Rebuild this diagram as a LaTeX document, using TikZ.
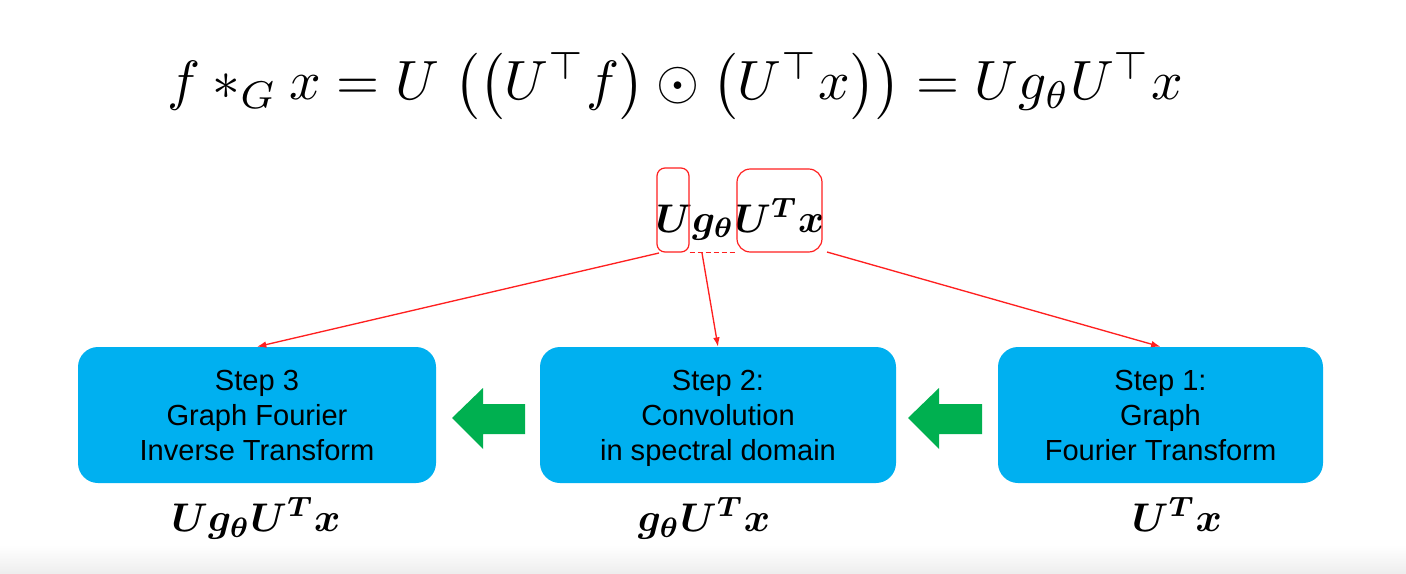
\documentclass[tikz,border=0pt]{standalone}
\usepackage{amsmath,bm}
\usepackage{fontspec}
\newfontfamily\arial{Liberation Sans}
\usetikzlibrary{arrows.meta}
\definecolor{boxblue}{HTML}{00B0F0}
\definecolor{arrgreen}{HTML}{00B050}
\definecolor{lnred}{HTML}{FF2020}
\begin{document}
\begin{tikzpicture}[x=0.75pt,y=-0.75pt,
  stepbox/.style={fill=boxblue, rounded corners=15pt, minimum height=102pt,
    inner sep=0pt, align=center, font=\arial\fontsize{21.5}{26.25}\selectfont},
  steptext/.style={align=center, text depth=0pt, font=\arial\fontsize{21.8}{26.25}\selectfont},
  redbox/.style={draw=lnred, line width=0.9pt, inner sep=0pt},
  redarrow/.style={draw=lnred, line width=1pt, -{Latex[length=7pt,width=5pt]}},
  mathlabel/.style={anchor=base, inner sep=0pt, scale=3},
  greenarrow/.style={fill=arrgreen}]
\useasboundingbox (0,0) rectangle (1406,574);
\fill[white] (0,0) rectangle (1406,574);
\shade[top color=white, bottom color=black!7] (0,545) rectangle (1406,574);

% top formula
\node[anchor=base, inner sep=0pt, scale=4.15] (formula) at (675,100)
  {$f *_{G} x = U\; \bigl(\bigl(U^{\top} f\bigr) \odot \bigl(U^{\top} x\bigr)\bigr) = U g_{\theta} U^{\top} x$};

% middle expression
\node[mathlabel] (expr) at (740,232) {$\bm{U g_{\theta} U^{T} x}$};
\node[redbox, rounded corners=6pt, minimum width=24pt, minimum height=63pt] (rU) at (673,210) {};
\node[redbox, rounded corners=10pt, minimum width=63.75pt, minimum height=62.25pt] (rT) at (779.5,210.5) {};

% step boxes
\node[stepbox, minimum width=268.5pt] (s3) at (257,415) {};
\node[steptext] (t3) at (257,415) {Step 3\\Graph Fourier\\Inverse Transform};
\node[stepbox, minimum width=267pt] (s2) at (718,415) {};
\node[steptext] (t2) at (718,415) {Step 2:\\Convolution\\in spectral domain};
\node[stepbox, minimum width=243.75pt] (s1) at (1160.5,415) {};
\node[steptext] (t1) at (1160.5,415) {Step 1:\\Graph\\Fourier Transform};

% bottom labels
\node[mathlabel] (l3) at (256,531) {$\bm{U g_{\theta} U^{T} x}$};
\node[mathlabel] (l2) at (704,531) {$\bm{g_{\theta} U^{T} x}$};
\node[mathlabel] (l1) at (1177,531) {$\bm{U^{T} x}$};

% red connectors
\coordinate (aL) at (659,253);
\coordinate (aM) at (702,253);
\coordinate (aR) at (827,252);
\draw[draw=lnred, line width=1pt, dash pattern=on 4pt off 2pt] (rU.south east) -- (rT.south west);
\draw[redarrow] (aL) -- (s3.north);
\draw[redarrow] (aM) -- (s2.north);
\draw[redarrow] (aR) -- (s1.north);

% green arrows
\fill[greenarrow] (452,418) -- (483,388) -- (483,404) -- (525,404) -- (525,434) -- (483,434) -- (483,449) -- cycle;
\fill[greenarrow] (908,418) -- (939,388) -- (939,404) -- (982,404) -- (982,434) -- (939,434) -- (939,449) -- cycle;
\end{tikzpicture}
\end{document}
